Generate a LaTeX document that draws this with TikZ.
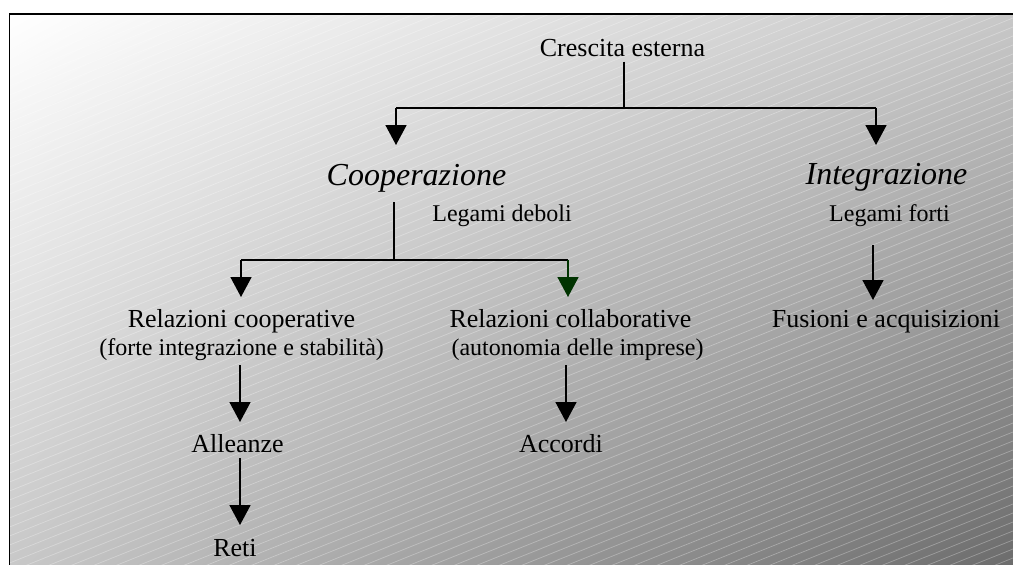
\documentclass[tikz,border=0pt]{standalone}
\usepackage{fontspec}
\setmainfont{Liberation Serif}
\usetikzlibrary{arrows.meta,shadings}
\definecolor{darkgreen}{RGB}{0,51,0}
\definecolor{bgul}{RGB}{255,255,255}
\definecolor{bgur}{RGB}{200,200,200}
\definecolor{bgll}{RGB}{200,200,200}
\definecolor{bglr}{RGB}{108,108,108}
\begin{document}
\begin{tikzpicture}[x=1pt,y=1pt,
  lbl/.style={inner sep=0pt, anchor=base, font=\fontsize{26}{30}\selectfont},
  big/.style={inner sep=0pt, anchor=base, font=\fontsize{32}{36}\selectfont\itshape},
  sml/.style={inner sep=0pt, anchor=base, font=\fontsize{24}{28}\selectfont},
  conn/.style={line width=1.6pt},
  arr/.style={line width=1.6pt, -{Triangle[width=21pt,length=20pt]}},
  hatch/.style={white, opacity=0.3, line width=0.7pt},
  ]
\useasboundingbox (0,0) rectangle (1013,-565);
% background
\begin{scope}
\clip (9.5,-14) rectangle (1013,-565);
\shade[upper left=bgul, upper right=bgur, lower left=bgll, lower right=bglr] (9.5,-14) rectangle (1013,-565);
\foreach \k in {0,...,110}{
  \draw[hatch] (9.5,{-14-9*\k}) -- (1013,{-14-9*\k+401});
}
\end{scope}
\draw[line width=1.4pt] (9.5,-565) -- (9.5,-14) -- (1013,-14);

% texts
\node[lbl] (ce) at (622.5,-56.7) {Crescita esterna};
\node[big] (coop) at (416.5,-185) {Cooperazione};
\node[big] (integ) at (886.5,-184) {Integrazione};
\node[sml] (ldeb) at (502,-221) {Legami deboli};
\node[sml] (lfor) at (889.5,-221) {Legami forti};
\node[lbl] (rcoop) at (241.5,-327) {Relazioni cooperative};
\node[sml] (rcoopd) at (241.6,-355) {(forte integrazione e stabilità)};
\node[lbl] (rcoll) at (570.5,-327) {Relazioni collaborative};
\node[sml] (rcolld) at (577.5,-355) {(autonomia delle imprese)};
\node[lbl] (fus) at (886,-327) {Fusioni e acquisizioni};
\node[lbl] (all) at (237.5,-452) {Alleanze};
\node[lbl] (acc) at (561,-452) {Accordi};
\node[lbl] (reti) at (235,-556) {Reti};

% connector points
\coordinate (ceb) at (624,-61.7);
\coordinate (j1) at (624,-108);
\coordinate (j1l) at (396,-108);
\coordinate (j1r) at (876,-108);
\coordinate (coopt) at (396,-145);
\coordinate (integt) at (876,-145);
\coordinate (coopb) at (394,-202);
\coordinate (j2) at (394,-260);
\coordinate (j2l) at (241,-260);
\coordinate (j2r) at (568,-260);
\coordinate (rcoopt) at (241,-297);
\coordinate (rcollt) at (568,-297);
\coordinate (lforb) at (873,-245);
\coordinate (fust) at (873,-300);
\coordinate (rcoopb) at (240,-365);
\coordinate (allt) at (240,-422);
\coordinate (rcollb) at (566,-365);
\coordinate (acct) at (566,-422);
\coordinate (allb) at (240,-458);
\coordinate (retit) at (240,-525);

% connectors
\draw[conn] (ceb) -- (j1);
\draw[conn] (j1l) -- (j1r);
\draw[arr] (j1l) -- (coopt);
\draw[arr] (j1r) -- (integt);
\draw[conn] (coopb) -- (j2);
\draw[conn] (j2l) -- (j2r);
\draw[arr] (j2l) -- (rcoopt);
\draw[arr, darkgreen] (j2r) -- (rcollt);
\draw[arr] (lforb) -- (fust);
\draw[arr] (rcoopb) -- (allt);
\draw[arr] (rcollb) -- (acct);
\draw[arr] (allb) -- (retit);
\end{tikzpicture}
\end{document}
